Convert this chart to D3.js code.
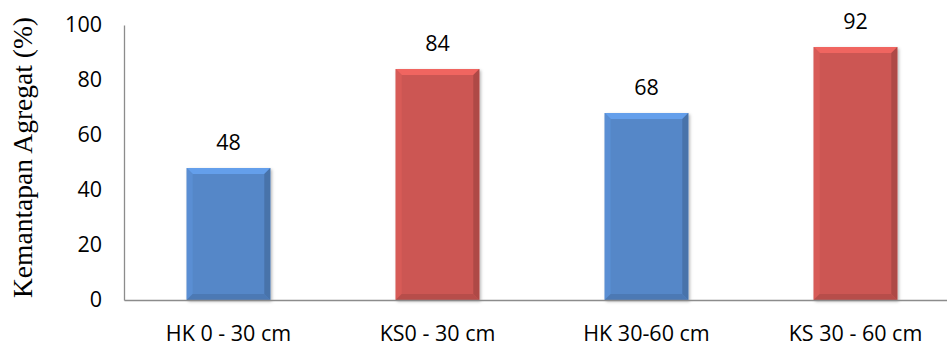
<!DOCTYPE html>
<html><head><meta charset="utf-8">
<script src="https://cdn.jsdelivr.net/npm/d3@7/dist/d3.min.js"></script>
<style>body{margin:0;background:#fff}svg{display:block}</style>
</head><body>
<script>
const categories = ["HK 0 - 30 cm", "KS0 - 30 cm", "HK 30-60 cm", "KS 30 - 60 cm"];
const values = [48, 84, 68, 92];
const barColors = ["#5587C8", "#CC5652", "#5587C8", "#CC5652"];
const yTicks = [0, 20, 40, 60, 80, 100];
const yTitle = "Kemantapan Agregat (%)";

const W = 947, H = 346;
const svg = d3.select("body").append("svg").attr("width", W).attr("height", H);
const x = d3.scaleBand().domain(categories).range([124, 960]).paddingInner(0.6).paddingOuter(0.3);
const y = d3.scaleLinear().domain([0, 100]).range([300, 25]);
const font = "'Open Sans', sans-serif";
const fs = 21.5;

const defs = svg.append("defs");
const f = defs.append("filter").attr("id","sh").attr("x","-20%").attr("y","-20%").attr("width","140%").attr("height","140%");
f.append("feDropShadow").attr("dx",1.5).attr("dy",1.5).attr("stdDeviation",1.5).attr("flood-color","#000").attr("flood-opacity",0.3);

// axes
const yAxis = d3.axisLeft(y).tickValues(yTicks).tickSize(0).tickPadding(22);
const gy = svg.append("g").attr("transform","translate(124,0)").call(yAxis);
gy.select(".domain").attr("stroke","#8c8c8c").attr("stroke-width",1.3);
gy.selectAll("text").attr("font-family",font).attr("font-size",fs).attr("fill","#000");

const xAxis = d3.axisBottom(x).tickSize(0).tickPadding(26);
const gx = svg.append("g").attr("transform","translate(0,300)").call(xAxis);
gx.select(".domain").attr("stroke","#8c8c8c").attr("stroke-width",1.3);
gx.selectAll("text").attr("font-family",font).attr("font-size",fs).attr("fill","#000");

// bars
const bw = x.bandwidth(), b = 6;
const g = svg.selectAll(".bar").data(categories).enter().append("g").attr("class","bar");
g.each(function(c, i){
  const el = d3.select(this);
  const x0 = x(c), x1 = x0 + bw, y0 = y(values[i]), y1 = y(0);
  const col = d3.color(barColors[i]);
  el.append("rect").attr("x",x0).attr("y",y0).attr("width",bw).attr("height",y1-y0)
    .attr("fill",col).attr("filter","url(#sh)");
  const poly = (pts, fill) => el.append("polygon").attr("points", pts.map(p=>p.join(",")).join(" ")).attr("fill", fill);
  poly([[x0,y0],[x1,y0],[x1-b,y0+b],[x0+b,y0+b]], col.brighter(0.45));
  poly([[x0,y0],[x0+b,y0+b],[x0+b,y1-b],[x0,y1]], col.brighter(0.15));
  poly([[x1,y0],[x1,y1],[x1-b,y1-b],[x1-b,y0+b]], col.darker(0.45));
  poly([[x0,y1],[x1,y1],[x1-b,y1-b],[x0+b,y1-b]], col.darker(0.3));
  el.append("text").attr("x",x0+bw/2).attr("y",y0-18).attr("text-anchor","middle")
    .attr("font-family",font).attr("font-size",fs).attr("fill","#000").text(values[i]);
});
gx.raise();
svg.append("text").attr("transform","translate(32,157.5) rotate(-90)").attr("text-anchor","middle")
  .attr("font-family","'Liberation Serif', 'Times New Roman', serif").attr("font-size",27.5).attr("fill","#000").text(yTitle);
</script>
</body></html>
